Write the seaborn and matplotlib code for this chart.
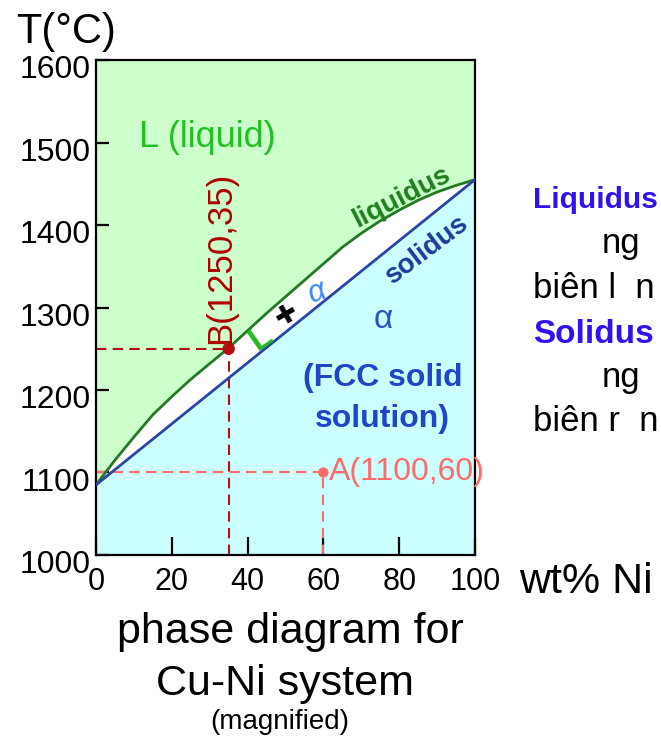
import matplotlib
matplotlib.use("Agg")
import matplotlib.pyplot as plt
from matplotlib.transforms import ScaledTranslation
import numpy as np
import pandas as pd
import seaborn as sns

# Cu-Ni phase boundaries: composition (wt% Ni) and temperature (°C)
liquidus_ni = [0, 5, 10, 15, 20, 25, 30, 35, 40, 45, 50, 55, 60, 65, 70, 75, 80, 85, 90, 95, 100]
liquidus_t = [1085, 1115, 1143, 1170, 1192, 1213, 1232, 1251, 1272, 1293, 1313, 1333,
              1353, 1373, 1390, 1405, 1418, 1430, 1440, 1448, 1455]
solidus_ni = [0, 20, 40, 60, 80, 100]
solidus_t = [1085, 1159, 1233, 1307, 1381, 1455]

# Marked states (composition, temperature)
point_names = ["B", "A"]
point_ni = [35, 60]
point_t = [1250, 1100]

x_ticks = [0, 20, 40, 60, 80, 100]
y_ticks = [1000, 1100, 1200, 1300, 1400, 1500, 1600]

sns.set_theme(style="white")
plt.rcParams["font.family"] = ["Liberation Sans", "DejaVu Sans"]
plt.rcParams["text.color"] = "black"
plt.rcParams["xtick.color"] = "black"
plt.rcParams["ytick.color"] = "black"

W, H = 661, 741
fig = plt.figure(figsize=(W / 100, H / 100), dpi=100)
ax = fig.add_axes([96 / W, 1 - 555 / H, (475 - 96) / W, (555 - 60) / H])

liq = pd.DataFrame({"Ni": liquidus_ni, "T": liquidus_t})
sol = pd.DataFrame({"Ni": solidus_ni, "T": solidus_t})

# phase fields
ax.fill_between(liq["Ni"], liq["T"], 1600, color="#ccffcc", lw=0, zorder=0)
ax.fill_between(sol["Ni"], 1000, sol["T"], color="#ccffff", lw=0, zorder=0)

sns.lineplot(data=liq, x="Ni", y="T", color="#237a23", lw=2, ax=ax, zorder=3)
sns.lineplot(data=sol, x="Ni", y="T", color="#2a45a8", lw=2, ax=ax, zorder=3)

# guide lines and state points
pt_colors = {"B": "#b01010", "A": "#ff6a6a"}
for name, x, t in zip(point_names, point_ni, point_t):
    c = pt_colors[name]
    ax.hlines(t, 0, x, colors=c, linestyles=(0, (5, 3)), lw=1.5, zorder=2)
    ax.vlines(x, 1000, t, colors=c, linestyles=(0, (5, 3)), lw=1.5, zorder=2)

pts = pd.DataFrame({"name": point_names, "Ni": point_ni, "T": point_t})
sns.scatterplot(data=pts, x="Ni", y="T", hue="name", palette=pt_colors,
                size="name", sizes={"B": 80, "A": 55},
                edgecolor="none", legend=False, ax=ax, zorder=5, clip_on=False)

bx, bt = point_ni[0], point_t[0]
ax.text(bx - 2, bt + 6, f"B({bt},{bx})", rotation=90, ha="center", va="bottom",
        color="#b00000", fontsize=25)
axx, at = point_ni[1], point_t[1]
ax.text(axx + 1.4, at, f"A({at},{axx})", ha="left", va="center",
        color="#ff6a6a", fontsize=23, clip_on=False)

# region and boundary labels
ax.text(29.3, 1506, "L (liquid)", ha="center", va="center", color="#22c022", fontsize=26)
ax.text(80.5, 1434, "liquidus", ha="center", va="center", rotation=27,
        color="#1f7f1f", fontsize=20, fontweight="bold")
ax.text(87.3, 1370, "solidus", ha="center", va="center", rotation=37,
        color="#203a9a", fontsize=20, fontweight="bold")
ax.text(58.3, 1318, "α", ha="center", va="center", rotation=20, style="italic",
        color="#3a86ff", fontsize=22)
ax.text(50.4, 1291, "✚", ha="center", va="center", rotation=30,
        color="black", fontsize=19, family=["DejaVu Sans"])
ax.text(43.5, 1263, "L", ha="center", va="center", rotation=35, rotation_mode="anchor",
        color="#22bb22", fontsize=24, fontweight="bold")
ax.text(75.7, 1285, "α", ha="center", va="center", color="#2a52c8", fontsize=24)
ax.text(75.7, 1214, "(FCC solid", ha="center", va="center", color="#1e46c8",
        fontsize=23, fontweight="bold")
ax.text(75.5, 1165, "solution)", ha="center", va="center", color="#1e46c8",
        fontsize=23, fontweight="bold")

# axes styling
ax.set_xlim(0, 100)
ax.set_ylim(1000, 1600)
ax.set_xticks(x_ticks)
ax.set_yticks(y_ticks)
ax.set_xticklabels([str(v) for v in x_ticks])
ax.set_yticklabels([str(v) for v in y_ticks])
ax.set_xlabel("")
ax.set_ylabel("")
ax.grid(False)
for sp in ax.spines.values():
    sp.set_color("black")
    sp.set_linewidth(1.6)
ax.tick_params(axis="x", direction="in", length=13, width=1.6, labelsize=22,
               pad=9, colors="black", bottom=True, top=False)
ax.tick_params(axis="y", direction="in", length=9.5, width=1.6, labelsize=23,
               pad=4, colors="black", left=True, right=False)
for lab in ax.get_yticklabels():
    lab.set_transform(lab.get_transform() + ScaledTranslation(0, -5 / 72, fig.dpi_scale_trans))

# figure texts
fig.text(16 / W, 1 - 12 / H, "T(°C)", ha="left", va="top", fontsize=30)
fig.text(519 / W, 1 - 593 / H, "wt% Ni", ha="left", va="baseline", fontsize=31)
fig.text(290 / W, 1 - 632 / H, "phase diagram for", ha="center", va="center", fontsize=31)
fig.text(285 / W, 1 - 684 / H, "Cu-Ni system", ha="center", va="center", fontsize=31)
fig.text(280 / W, 1 - 722 / H, "(magnified)", ha="center", va="center", fontsize=20)

blue = "#3311ee"
fig.text(533 / W, 1 - 208 / H, "Liquidus", ha="left", va="baseline", fontsize=21.5,
         fontweight="bold", color=blue)
fig.text(602 / W, 1 - 253 / H, "ng", ha="left", va="baseline", fontsize=25)
fig.text(533 / W, 1 - 298 / H, "biên l  n", ha="left", va="baseline", fontsize=25)
fig.text(533 / W, 1 - 343 / H, "Solidus", ha="left", va="baseline", fontsize=24,
         fontweight="bold", color=blue)
fig.text(602 / W, 1 - 387 / H, "ng", ha="left", va="baseline", fontsize=25)
fig.text(533 / W, 1 - 431 / H, "biên r  n", ha="left", va="baseline", fontsize=25)

fig.savefig("out.png", dpi=100)
